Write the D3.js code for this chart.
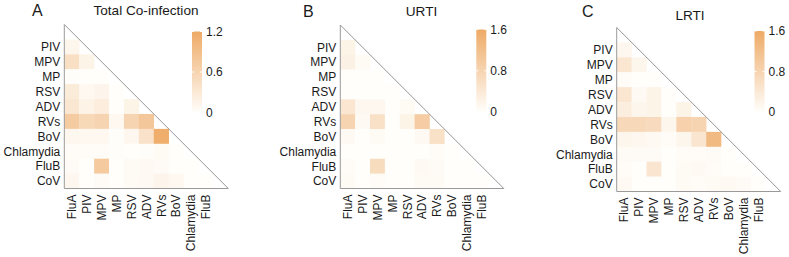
<!DOCTYPE html>
<html><head><meta charset="utf-8">
<script src="https://cdn.jsdelivr.net/npm/d3@7"></script>
<style>body{margin:0;background:#fff;} svg{display:block;}</style>
</head><body>
<svg id="c" width="789" height="257"></svg>
<script>
// categories
const rowLabels = ["PIV","MPV","MP","RSV","ADV","RVs","BoV","Chlamydia","FluB","CoV"];
const colLabels = ["FluA","PIV","MPV","MP","RSV","ADV","RVs","BoV","Chlamydia","FluB"];
// lower-triangle values: row i has i+1 values (cols FluA..)
const totalCo = [
  [0.12],
  [0.45,0.15],
  [0.02,0.00,0.00],
  [0.27,0.09,0.13,0.00],
  [0.33,0.16,0.24,0.00,0.15],
  [0.72,0.55,0.60,0.09,0.60,0.78],
  [0.10,0.08,0.08,0.02,0.10,0.40,1.15],
  [0.03,0.03,0.03,0.01,0.00,0.01,0.06,0.00],
  [0.04,0.00,0.75,0.00,0.05,0.07,0.04,0.00,0.00],
  [0.10,0.00,0.04,0.00,0.06,0.07,0.13,0.08,0.00,0.00]
];
const urti = [
  [0.20],
  [0.24,0.07],
  [0.00,0.00,0.00],
  [0.00,0.00,0.00,0.00],
  [0.45,0.13,0.13,0.00,0.06],
  [0.80,0.10,0.55,0.00,0.20,0.95],
  [0.09,0.00,0.08,0.00,0.00,0.09,0.55],
  [0.00,0.00,0.00,0.00,0.00,0.00,0.04,0.00],
  [0.04,0.00,0.65,0.00,0.00,0.09,0.05,0.00,0.00],
  [0.08,0.00,0.04,0.00,0.00,0.08,0.08,0.00,0.00,0.00]
];
const lrti = [
  [0.13],
  [0.45,0.16],
  [0.04,0.00,0.00],
  [0.45,0.09,0.20,0.00],
  [0.30,0.16,0.20,0.00,0.20],
  [0.72,0.72,0.66,0.16,0.85,0.80],
  [0.16,0.13,0.09,0.04,0.16,0.46,1.30],
  [0.05,0.05,0.05,0.00,0.03,0.03,0.05,0.00],
  [0.03,0.00,0.46,0.00,0.08,0.09,0.04,0.00,0.00],
  [0.10,0.00,0.00,0.00,0.07,0.03,0.08,0.09,0.05,0.00]
];
const panelLetters = ["A","B","C"];
const panelTitles = ["Total Co-infection","URTI","LRTI"];
const legendMax = [1.2,1.6,1.6];
const legendTicks = [[0,0.6,1.2],[0,0.8,1.6],[0,0.8,1.6]];
const panelData = [totalCo, urti, lrti];

// layout (not data)
const layout = [
  {gx:64.3, gy:24.5, size:164, cbx:192, cby0:31.5, cby1:112.5, tx:146, ty:15, lx:32, ly:16},
  {gx:340.3, gy:25, size:163.5, cbx:476.3, cby0:29.5, cby1:112, tx:421.5, ty:16, lx:303, ly:16.5},
  {gx:616.7, gy:27.5, size:164, cbx:754.5, cby0:31, cby1:112, tx:690, ty:20, lx:582, ly:16.5}
];

const FONT = "Liberation Sans";
const svg = d3.select("#c");
const lo = "#fffefb", hi = "#eeaa66";

const defs = svg.append("defs");
const grad = defs.append("linearGradient").attr("id","cbg").attr("x1",0).attr("y1",1).attr("x2",0).attr("y2",0);
grad.append("stop").attr("offset","0%").attr("stop-color",lo);
grad.append("stop").attr("offset","100%").attr("stop-color",hi);

const allCats = ["FluA"].concat(rowLabels); // 11 positions

panelData.forEach((data,p)=>{
  const L = layout[p];
  const g = svg.append("g");
  const x = d3.scaleBand().domain(allCats).range([L.gx, L.gx+L.size]);
  const y = d3.scaleBand().domain(allCats).range([L.gy, L.gy+L.size]);
  const color = d3.scaleLinear().domain([0,legendMax[p]]).range([lo,hi]).clamp(true);

  const cells = [];
  data.forEach((row,i)=>row.forEach((v,j)=>cells.push({r:rowLabels[i], c:colLabels[j], v})));
  g.selectAll("rect.cell").data(cells).join("rect")
    .attr("x",d=>x(d.c)).attr("y",d=>y(d.r))
    .attr("width",x.bandwidth()+0.3).attr("height",y.bandwidth()+0.3)
    .attr("fill",d=>color(d.v));

  const x0 = L.gx, x1 = L.gx+L.size, y0 = L.gy, y1 = L.gy+L.size;
  g.append("path").attr("d",`M${x0},${y0}L${x1},${y1}`).attr("stroke","#8a8a8a").attr("stroke-width",0.9).attr("fill","none");
  g.append("path").attr("d",`M${x0},${y0}L${x0},${y1}L${x1},${y1}`).attr("stroke","#9a9a9a").attr("stroke-width",1).attr("fill","none");

  g.selectAll("text.rl").data(rowLabels).join("text")
    .attr("x",x0-4).attr("y",d=>y(d)+y.bandwidth()/2).attr("dy","0.36em")
    .attr("text-anchor","end").attr("font-family",FONT).attr("font-size",12).attr("fill","#1a1a1a").text(d=>d);
  g.selectAll("text.cl").data(colLabels).join("text")
    .attr("transform",d=>`translate(${x(d)+x.bandwidth()/2},${y1+6}) rotate(-90)`)
    .attr("dy","0.36em").attr("text-anchor","end").attr("font-family",FONT).attr("font-size",12).attr("fill","#1a1a1a").text(d=>d);

  const cs = d3.scaleLinear().domain([0,legendMax[p]]).range([L.cby1,L.cby0]);
  g.append("rect").attr("x",L.cbx).attr("y",L.cby0).attr("width",10).attr("height",L.cby1-L.cby0).attr("fill","url(#cbg)");
  legendTicks[p].forEach(t=>{
    g.append("line").attr("x1",L.cbx).attr("x2",L.cbx+2).attr("y1",cs(t)).attr("y2",cs(t)).attr("stroke","#fff").attr("stroke-width",1);
    g.append("line").attr("x1",L.cbx+8).attr("x2",L.cbx+10).attr("y1",cs(t)).attr("y2",cs(t)).attr("stroke","#fff").attr("stroke-width",1);
    g.append("text").attr("x",L.cbx+14).attr("y",cs(t)).attr("dy","0.36em").attr("font-family",FONT).attr("font-size",12).attr("fill","#1a1a1a").text(d3.format(t===0?"d":".1f")(t));
  });

  svg.append("text").attr("x",L.tx).attr("y",L.ty).attr("text-anchor","middle").attr("font-family",FONT).attr("font-size",13.6).attr("fill","#1a1a1a").text(panelTitles[p]);
  svg.append("text").attr("x",L.lx).attr("y",L.ly).attr("font-family",FONT).attr("font-size",16).attr("fill","#1a1a1a").text(panelLetters[p]);
});
</script>
</body></html>
